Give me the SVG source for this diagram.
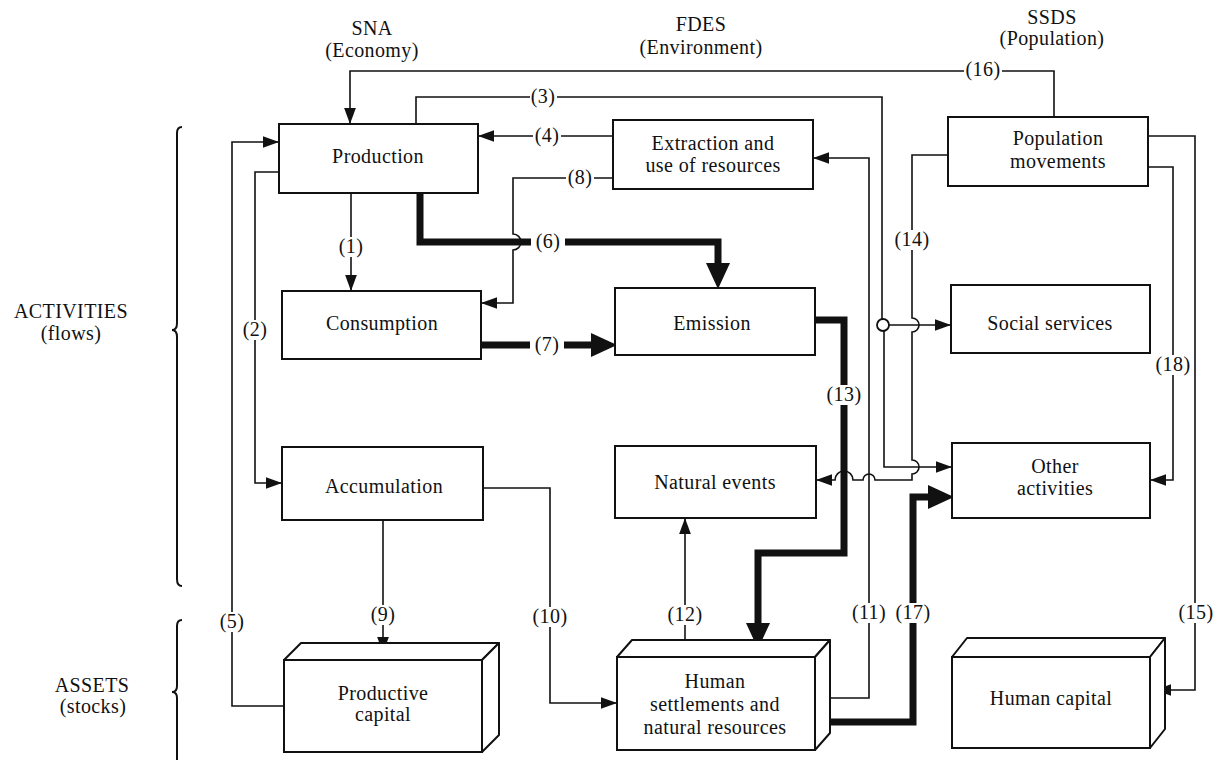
<svg xmlns="http://www.w3.org/2000/svg" width="1220" height="761" viewBox="0 0 1220 761" font-family="Liberation Serif, Times New Roman, serif">
<style>
text{font-family:'Liberation Serif','Times New Roman',serif;font-size:20px;fill:#111;text-anchor:middle;letter-spacing:0.4px}
.box{fill:#fff;stroke:#111;stroke-width:2}
.face{fill:#fff;stroke:#111;stroke-width:2;stroke-linejoin:round}
.ln{fill:none;stroke:#111;stroke-width:1.6}
.tk{fill:none;stroke:#111;stroke-width:7}
.lb{fill:#fff}
.br{fill:none;stroke:#111;stroke-width:2}
</style>
<defs>
<marker id="a" markerUnits="userSpaceOnUse" markerWidth="16" markerHeight="12" viewBox="0 0 15 11" refX="15" refY="5.5" orient="auto"><path d="M0,0 L15,5.5 L0,11 z" fill="#111"/></marker>
<marker id="A" markerUnits="userSpaceOnUse" markerWidth="26" markerHeight="24" viewBox="0 0 26 24" refX="10" refY="12" orient="auto"><path d="M0,0 L26,12 L0,24 z" fill="#111"/></marker>
</defs>
<rect width="1220" height="761" fill="#fff"/>

<g id="headers">
<text x="372" y="35">SNA</text>
<text x="372" y="57">(Economy)</text>
<text x="701" y="31">FDES</text>
<text x="701" y="54">(Environment)</text>
<text x="1052" y="24">SSDS</text>
<text x="1052" y="45">(Population)</text>
<text x="71" y="318">ACTIVITIES</text>
<text x="71" y="340">(flows)</text>
<text x="92" y="692">ASSETS</text>
<text x="93" y="713">(stocks)</text>
<path class="br" d="M182,127 Q177,127 177,133 V323 Q177,330 172,330 Q177,330 177,337 V579 Q177,586 182,586"/>
<path class="br" d="M182,620 Q177,620 177,626 V686 Q177,692 172,692 Q177,692 177,698 V760"/>
</g>

<g id="connectors">
<path class="ln" d="M1054,117 V71 H350 V124" marker-end="url(#a)"/>
<path class="ln" d="M416,124 V97 H882 V319"/>
<circle cx="883" cy="325" r="6" fill="#fff" stroke="#111" stroke-width="1.8"/>
<path class="ln" d="M889,325 H951" marker-end="url(#a)"/>
<path class="ln" d="M884,331 V467 H952" marker-end="url(#a)"/>
<path class="ln" d="M613,136 H478" marker-end="url(#a)"/>
<path class="ln" d="M613,178 H513 V234 A8,8 0 0 1 513,250 V303 H481" marker-end="url(#a)"/>
<path class="ln" d="M351,193 V291" marker-end="url(#a)"/>
<path class="tk" d="M420,193 V242 H718 V273" marker-end="url(#A)"/>
<path class="tk" d="M481,345 H601" marker-end="url(#A)"/>
<path class="tk" d="M815,320 H844 V553 H758 V633" marker-end="url(#A)"/>
<path class="ln" d="M279,172 H255 V483 H282" marker-end="url(#a)"/>
<path class="ln" d="M284,706 H232 V142 H279" marker-end="url(#a)"/>
<path class="ln" d="M383,520 V653" marker-end="url(#a)"/>
<path class="ln" d="M483,488 H550 V703 H617" marker-end="url(#a)"/>
<path class="ln" d="M685,648 V518" marker-end="url(#a)"/>
<path class="ln" d="M826,698 H869 V158 H813" marker-end="url(#a)"/>
<path class="tk" d="M826,722 H913 V497 H938" marker-end="url(#A)"/>
<path class="ln" d="M948,155 H912 V318 A7,7 0 0 1 912,332 V460 A7,7 0 0 1 912,474 V480 H875 A6,6 0 0 0 863,480 H853 A9,9 0 0 0 835,480 H816" marker-end="url(#a)"/>
<path class="ln" d="M1148,167 H1173 V480 H1150" marker-end="url(#a)"/>
<path class="ln" d="M1148,136 H1195 V690 H1155" marker-end="url(#a)"/>
<g id="labels">
<rect class="lb" x="964" y="61" width="38" height="18"/><text x="983" y="76">(16)</text>
<rect class="lb" x="530" y="88" width="27" height="18"/><text x="543" y="103">(3)</text>
<rect class="lb" x="533" y="127" width="28" height="18"/><text x="547" y="142">(4)</text>
<rect class="lb" x="566" y="169" width="28" height="18"/><text x="580" y="184">(8)</text>
<rect class="lb" x="339" y="237" width="24" height="20"/><text x="351" y="253">(1)</text>
<rect class="lb" x="531" y="232" width="34" height="20"/><text x="548" y="248">(6)</text>
<rect class="lb" x="530" y="335" width="34" height="20"/><text x="547" y="351">(7)</text>
<rect class="lb" x="826" y="385" width="36" height="20"/><text x="844" y="401">(13)</text>
<rect class="lb" x="243" y="320" width="24" height="20"/><text x="255" y="336">(2)</text>
<rect class="lb" x="220" y="612" width="24" height="20"/><text x="232" y="628">(5)</text>
<rect class="lb" x="371" y="605" width="24" height="20"/><text x="383" y="621">(9)</text>
<rect class="lb" x="533" y="607" width="34" height="20"/><text x="550" y="623">(10)</text>
<rect class="lb" x="668" y="605" width="34" height="20"/><text x="685" y="621">(12)</text>
<rect class="lb" x="852" y="603" width="34" height="20"/><text x="869" y="619">(11)</text>
<rect class="lb" x="895" y="603" width="36" height="20"/><text x="913" y="619">(17)</text>
<rect class="lb" x="895" y="230" width="34" height="20"/><text x="912" y="246">(14)</text>
<rect class="lb" x="1156" y="355" width="34" height="20"/><text x="1173" y="371">(18)</text>
<rect class="lb" x="1179" y="603" width="34" height="20"/><text x="1196" y="619">(15)</text>
</g>
</g>

<g id="production"><rect class="box" x="279" y="124" width="199" height="69"/><text x="378" y="163">Production</text></g>
<g id="extraction"><rect class="box" x="613" y="120" width="200" height="69"/><text x="713" y="150">Extraction and</text><text x="713" y="172">use of resources</text></g>
<g id="population"><rect class="box" x="948" y="117" width="200" height="69"/><text x="1058" y="145">Population</text><text x="1058" y="168">movements</text></g>
<g id="consumption"><rect class="box" x="282" y="291" width="199" height="68"/><text x="382" y="330">Consumption</text></g>
<g id="emission"><rect class="box" x="615" y="288" width="200" height="67"/><text x="712" y="330">Emission</text></g>
<g id="social"><rect class="box" x="951" y="285" width="199" height="68"/><text x="1050" y="330">Social services</text></g>
<g id="accumulation"><rect class="box" x="282" y="447" width="201" height="73"/><text x="384" y="493">Accumulation</text></g>
<g id="natural"><rect class="box" x="615" y="446" width="201" height="72"/><text x="715" y="489">Natural events</text></g>
<g id="other"><rect class="box" x="952" y="443" width="198" height="75"/><text x="1055" y="473">Other</text><text x="1055" y="495">activities</text></g>

<g id="productive-capital">
<path class="face" d="M284,660 L301,643 L499,643 L482,660 z"/>
<path class="face" d="M482,660 L499,643 L499,735 L482,752 z"/>
<rect class="box" x="284" y="660" width="198" height="92"/>
<text x="383" y="700">Productive</text><text x="383" y="721">capital</text>
</g>
<g id="human-settlements">
<path class="face" d="M617,657 L632,640 L830,640 L815,657 z"/>
<path class="face" d="M815,657 L830,640 L830,733 L815,750 z"/>
<rect class="box" x="617" y="657" width="198" height="93"/>
<text x="715" y="688">Human</text><text x="715" y="711">settlements and</text><text x="715" y="734">natural resources</text>
</g>
<g id="human-capital">
<path class="face" d="M952,657 L967,638 L1165,638 L1150,657 z"/>
<path class="face" d="M1150,657 L1165,638 L1165,729 L1150,748 z"/>
<rect class="box" x="952" y="657" width="198" height="91"/>
<text x="1051" y="705">Human capital</text>
</g>
</svg>
